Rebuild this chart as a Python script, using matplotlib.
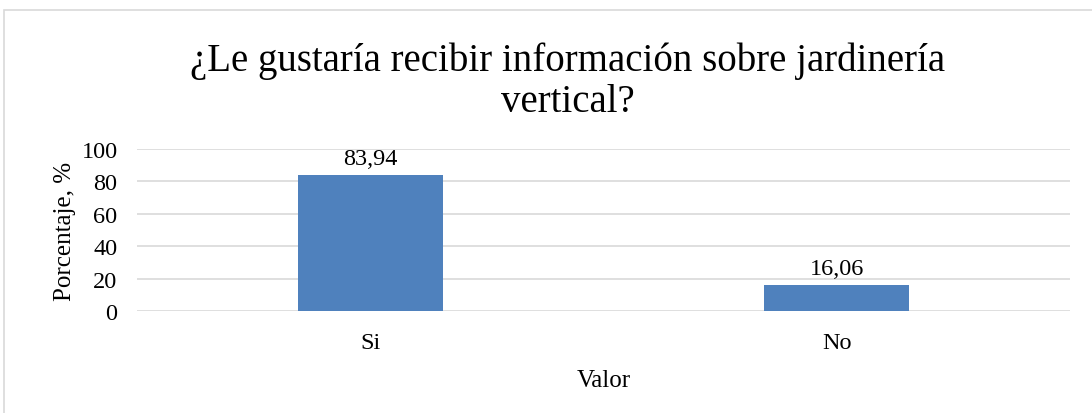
import matplotlib.pyplot as plt
from matplotlib.patches import Rectangle

categories = ['Si', 'No']
values = [83.94, 16.06]
labels = ['83,94', '16,06']

plt.rcParams['font.family'] = ['Liberation Serif', 'DejaVu Serif']

fig = plt.figure(figsize=(10.92, 4.14), dpi=100)
ax = fig.add_axes([137 / 1092, 1 - 312 / 414, (1070 - 137) / 1092, (312 - 150) / 414])

x = range(len(categories))
ax.bar(x, values, width=0.31, color='#4F81BD', zorder=3)
for xi, v, lab in zip(x, values, labels):
    ax.text(xi, v + 4, lab, ha='center', va='bottom', fontsize=17.5)

ax.set_xlim(-0.5, 1.5)
ax.set_ylim(0, 100)
ax.set_yticks(range(0, 101, 20))
ax.set_xticks(list(x))
ax.set_xticklabels(categories)
ax.tick_params(axis='both', length=0, labelsize=17.5)
ax.tick_params(axis='x', pad=15)
ax.tick_params(axis='y', pad=14)
ax.grid(axis='y', color='#D9D9D9', linewidth=1.2, zorder=0)
for s in ax.spines.values():
    s.set_visible(False)

ax.set_ylabel('Porcentaje, %', fontsize=18, labelpad=4)
ax.set_xlabel('Valor', fontsize=18, labelpad=12)

fig.text(568 / 1092, 1 - 82 / 414, '¿Le gustaría recibir información sobre jardinería\nvertical?',
         ha='center', va='center', fontsize=28, linespacing=1.15)

# outer chart frame
fig.patches.append(Rectangle((3.5 / 1092, -0.05), 1.1, 1 - 10.5 / 414 + 0.05,
                             transform=fig.transFigure, fill=False,
                             edgecolor='#D9D9D9', linewidth=1.2))

fig.savefig('out.png', dpi=100)
